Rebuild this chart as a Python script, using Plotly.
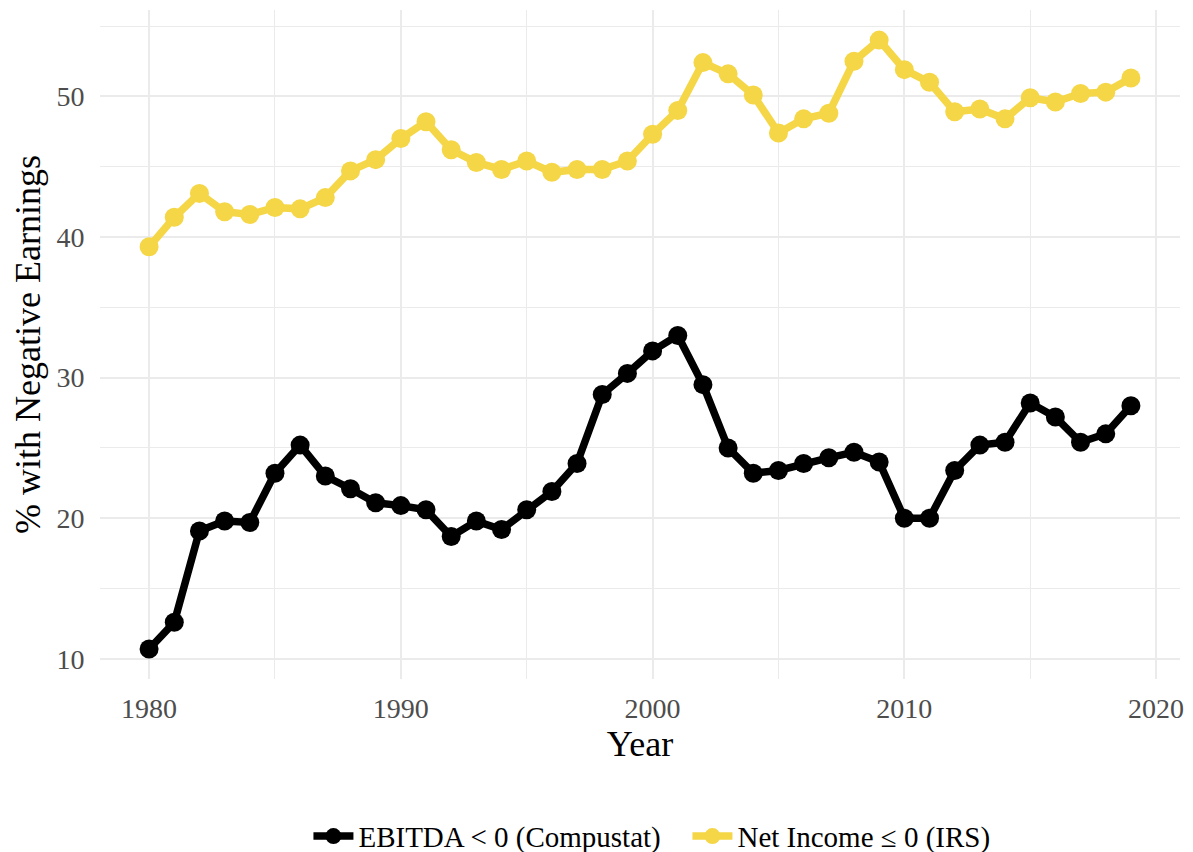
import plotly.graph_objects as go

years = list(range(1980, 2020))
ebitda_neg = [10.7, 12.6, 19.1, 19.8, 19.7, 23.2, 25.2, 23.0, 22.1, 21.1,
              20.9, 20.6, 18.7, 19.8, 19.2, 20.6, 21.9, 23.9, 28.8, 30.3,
              31.9, 33.0, 29.5, 25.0, 23.2, 23.4, 23.9, 24.3, 24.7, 24.0,
              20.0, 20.0, 23.4, 25.2, 25.4, 28.2, 27.2, 25.4, 26.0, 28.0]
netinc_neg = [39.3, 41.4, 43.1, 41.8, 41.6, 42.1, 42.0, 42.8, 44.7, 45.5,
              47.0, 48.2, 46.2, 45.3, 44.8, 45.4, 44.6, 44.8, 44.8, 45.4,
              47.3, 49.0, 52.4, 51.6, 50.1, 47.4, 48.4, 48.8, 52.5, 54.0,
              51.9, 51.0, 48.9, 49.1, 48.4, 49.9, 49.6, 50.2, 50.3, 51.3]
series_names = ["EBITDA < 0 (Compustat)", "Net Income \u2264 0 (IRS)"]
x_ticks = [1980, 1990, 2000, 2010, 2020]
y_ticks = [10, 20, 30, 40, 50]

BLACK = "#000000"
YELLOW = "#F5D646"
FONT = "Liberation Serif, Times New Roman, serif"

fig = go.Figure()
for name, vals, col in [(series_names[0], ebitda_neg, BLACK),
                        (series_names[1], netinc_neg, YELLOW)]:
    fig.add_trace(go.Scatter(
        x=years, y=vals, name=name, mode="lines+markers",
        line=dict(color=col, width=7.5),
        marker=dict(color=col, size=19),
    ))

# page body has an 8px margin, so the figure is drawn 8px right/down
fig.update_layout(
    width=1185, height=844,
    margin=dict(l=92, r=13, t=2, b=173, autoexpand=False),
    paper_bgcolor="white", plot_bgcolor="white",
    font=dict(family=FONT, color="#000000"),
    showlegend=True,
    legend=dict(orientation="h", x=0.193, xanchor="left", y=-0.235, yanchor="middle",
                font=dict(size=29, color="#000000", family=FONT), itemwidth=40,
                entrywidth=324, tracegroupgap=0),
)
fig.update_xaxes(
    range=[1978.05, 2020.95], tickmode="array", tickvals=x_ticks,
    showgrid=True, gridcolor="#EBEBEB", gridwidth=2,
    minor=dict(dtick=5, tick0=1975, showgrid=True, gridcolor="#EBEBEB", gridwidth=1),
    zeroline=False, showline=False, automargin=False,
    ticks="outside", ticklen=4, tickcolor="rgba(0,0,0,0)",
    tickfont=dict(size=28, color="#4D4D4D", family=FONT),
    title=dict(text="Year", font=dict(size=36, color="#000000", family=FONT), standoff=6),
)
fig.update_yaxes(
    range=[8.57, 56.14], tickmode="array", tickvals=y_ticks,
    showgrid=True, gridcolor="#EBEBEB", gridwidth=2,
    minor=dict(dtick=5, tick0=5, showgrid=True, gridcolor="#EBEBEB", gridwidth=1),
    zeroline=False, showline=False, automargin=False,
    ticks="outside", ticklen=9, tickcolor="rgba(0,0,0,0)",
    tickfont=dict(size=28, color="#4D4D4D", family=FONT),
    title=dict(text="% with Negative Earnings", font=dict(size=36, color="#000000", family=FONT), standoff=8),
)

fig.write_html("out.html")
